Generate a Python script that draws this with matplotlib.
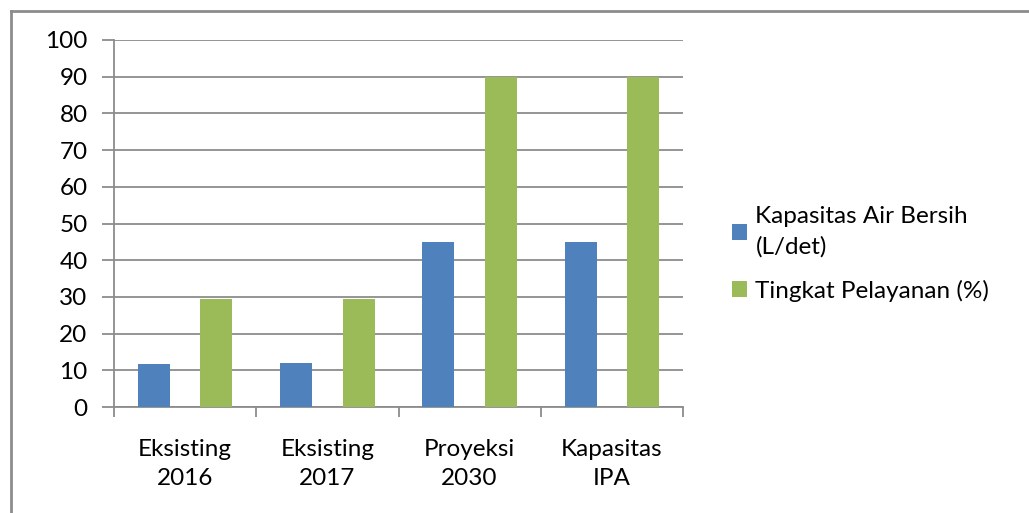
import numpy as np
import matplotlib
matplotlib.use("Agg")
import matplotlib.pyplot as plt
from matplotlib.lines import Line2D

categories = ['Eksisting\n2016', 'Eksisting\n2017', 'Proyeksi\n2030', 'Kapasitas\nIPA']
kapasitas = [11.7, 12.0, 45.0, 45.0]
pelayanan = [29.3, 29.3, 90.0, 90.0]
series_names = ['Kapasitas Air Bersih\n(L/det)', 'Tingkat Pelayanan (%)']
yticks = np.arange(0, 101, 10)

plt.rcParams['font.family'] = ['Lato', 'DejaVu Sans']
fs = 17.5

fig = plt.figure(figsize=(10.29, 5.13), dpi=100)
ax = fig.add_axes([114 / 1029, 1 - 407 / 513, (683 - 114) / 1029, (407 - 40) / 513])

x = np.arange(len(categories))
width = 0.225
ax.bar(x - 0.22, kapasitas, width, color='#4f81bd', label=series_names[0], zorder=3)
ax.bar(x + 0.22, pelayanan, width, color='#9bbb59', label=series_names[1], zorder=3)

ax.set_xlim(-0.5, len(categories) - 0.5)
ax.set_ylim(0, 100)
ax.set_yticks(yticks)
ax.set_yticklabels([str(v) for v in yticks], fontsize=fs)
ax.yaxis.grid(True, color='#8c8c8c', linewidth=1.3, zorder=0)

# category ticks sit between groups
ax.set_xticks(np.arange(-0.5, len(categories)), minor=False)
ax.set_xticklabels([])
ax.set_xticks(x, minor=True)
ax.set_xticklabels(categories, minor=True, fontsize=fs, linespacing=1.5)
ax.tick_params(axis='x', which='minor', length=0, pad=23)
ax.tick_params(axis='x', which='major', length=7, color='#8c8c8c', width=1.3)
ax.tick_params(axis='y', length=9, color='#8c8c8c', width=1.3, pad=10)

for s in ['top', 'right']:
    ax.spines[s].set_visible(False)
for s in ['left', 'bottom']:
    ax.spines[s].set_color('#8c8c8c')
    ax.spines[s].set_linewidth(1.3)

leg = fig.legend(loc='center left', bbox_to_anchor=(0.690, 0.505), frameon=False,
                 fontsize=fs, handlelength=0.62, handleheight=0.62, handletextpad=0.35,
                 labelspacing=0.9)
for t in leg.get_texts():
    t.set_linespacing(1.5)

# outer chart border (top and left edges visible)
fig.add_artist(Line2D([11 / 1029, 1.0], [1 - 11 / 513, 1 - 11 / 513], transform=fig.transFigure,
                      color='#8c8c8c', linewidth=2))
fig.add_artist(Line2D([11 / 1029, 11 / 1029], [0.0, 1 - 11 / 513], transform=fig.transFigure,
                      color='#8c8c8c', linewidth=2))

fig.savefig('out.png', dpi=100)
